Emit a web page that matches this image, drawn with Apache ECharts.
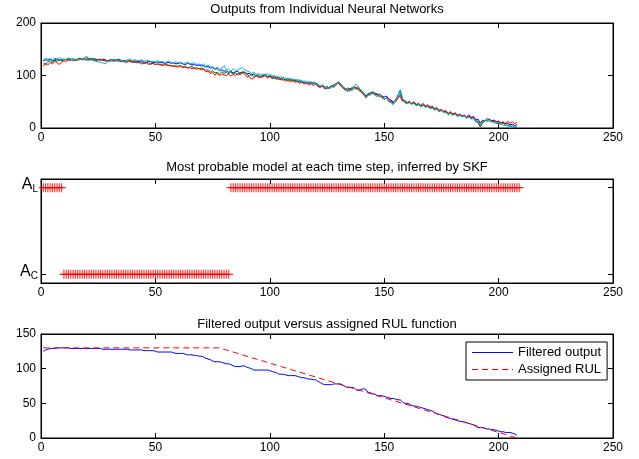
<!DOCTYPE html>
<html><head><meta charset="utf-8">
<script src="https://cdn.jsdelivr.net/npm/echarts@6/dist/echarts.min.js"></script>
<style>html,body{margin:0;padding:0;background:#fff}#c{width:639px;height:459px}</style>
</head><body><div id="c"></div>
<script>
// ---------- DATA ----------
const titles = ['Outputs from Individual Neural Networks',
  'Most probable model at each time step, inferred by SKF',
  'Filtered output versus assigned RUL function'];
const xTicks = [0, 50, 100, 150, 200, 250];

// Panel 1: outputs of four neural networks, time step 1..208
const nnBlue = [128,130,129,131,128,130,131,129,130,131,130,132,131,129,130,131,132,130,131,132,
131,130,132,131,130,129,131,130,128,129,130,129,130,131,129,128,129,127,128,127,
128,126,127,128,126,125,127,126,124,125,126,124,125,123,124,125,123,124,122,123,
124,122,121,123,122,120,121,119,120,118,119,116,117,114,115,112,113,109,111,108,
109,106,108,105,107,108,104,107,106,103,104,101,103,99,101,98,100,102,98,100,
97,99,95,97,93,96,92,94,91,93,89,92,88,90,86,88,85,88,84,86,
81,79,82,77,79,76,80,78,83,86,81,77,74,71,76,73,79,75,77,70,
67,61,64,68,65,67,62,65,60,59,61,55,53,49,54,62,71,54,52,47,
49,46,48,43,45,41,44,40,42,38,39,35,37,33,34,31,32,27,30,26,
28,24,26,23,24,21,25,20,22,16,17,9,15,13,18,16,14,15,12,13,
10,11,8,9,6,7,5,6];
const nnGreen = [124,121,126,128,125,129,127,130,128,129,131,130,129,132,130,131,133,131,134,136,
132,133,131,130,131,130,129,128,127,130,129,130,128,127,128,126,127,128,126,125,
126,124,125,122,123,124,121,122,123,121,122,120,121,122,119,120,118,119,117,118,
119,116,118,115,116,117,114,115,113,114,113,110,111,107,109,105,106,103,107,104,
106,103,107,102,105,101,106,104,107,102,100,102,97,101,98,96,99,102,97,99,
96,94,97,92,95,91,93,89,92,90,91,87,90,86,88,84,87,83,88,85,
84,79,81,78,75,78,80,82,85,87,83,79,75,76,73,78,77,74,75,68,
63,60,66,65,70,64,66,60,62,55,57,51,50,46,52,56,64,52,50,47,
50,46,49,44,46,42,45,40,43,38,40,36,38,31,34,30,31,26,29,25,
27,22,25,22,24,19,22,18,19,12,10,2,9,14,13,16,11,13,9,10,
7,9,5,6,3,4,1,2];
const nnRed = [118,123,120,125,122,127,124,121,126,128,127,129,130,131,128,130,132,131,130,129,
130,131,129,128,130,131,130,129,128,127,128,127,129,128,126,127,125,126,128,126,
125,127,124,126,123,125,124,122,123,121,122,121,119,120,121,118,119,117,118,116,
117,115,116,114,115,113,114,112,113,111,111,107,108,104,106,101,104,100,103,101,
100,103,99,102,100,104,101,106,103,97,98,93,95,100,96,98,97,100,95,98,
94,97,92,95,91,93,89,92,88,90,87,89,85,88,84,86,82,85,81,83,
79,77,80,74,77,75,78,81,82,86,80,76,72,73,70,76,74,78,71,69,
64,57,63,64,68,62,64,59,61,54,58,52,51,47,50,58,60,51,53,48,
51,47,50,45,47,43,47,42,44,40,42,37,39,34,35,32,33,28,31,27,
29,25,26,22,25,20,23,19,20,14,13,5,12,15,14,17,12,14,10,13,
9,12,8,13,9,12,8,11];
const nnCyan = [130,133,131,132,130,133,131,134,132,130,131,133,132,130,131,129,130,132,131,130,
129,130,128,127,126,125,124,122,126,128,129,131,130,128,129,127,128,130,131,129,
130,128,129,130,127,128,129,126,127,126,128,126,127,125,126,128,124,125,126,124,
125,123,124,126,122,123,124,121,122,120,122,118,120,116,117,113,116,112,114,119,
111,112,108,113,109,111,113,115,111,109,107,104,106,102,104,101,103,100,104,101,
101,97,99,96,98,93,96,92,95,92,93,90,92,88,90,86,89,85,87,83,
84,80,82,77,78,75,79,77,83,88,85,78,75,69,74,71,81,83,76,72,
66,58,62,63,67,62,59,63,57,55,57,50,48,44,53,63,73,57,48,46,
48,45,47,42,44,40,43,39,41,37,38,34,36,31,33,29,30,25,28,24,
26,22,24,21,23,18,21,17,18,13,12,6,13,14,15,12,13,9,10,7,
8,5,6,3,4,2,3,2];

// Panel 2: most probable model, segments [firstStep, lastStep, model] (1 = A_L, 0 = A_C)
const modelSegments = [[1, 9, 1], [10, 82, 0], [83, 209, 1]];

// Panel 3: filtered output (time step 1..208) and assigned RUL breakpoints
const filteredOutput = [125,127,128,129,129,129,130,130,130,130,130,130,129,129,129,129,129,129,129,129,
129,129,129,129,129,129,128,128,128,128,128,128,128,128,128,128,128,128,127,127,
127,127,127,127,126,126,126,126,126,125,124,124,124,124,124,124,124,123,122,122,
122,122,121,120,120,120,119,119,118,118,117,115,114,113,111,110,110,110,109,108,
107,107,106,104,103,103,103,104,104,102,101,100,98,98,98,98,98,98,98,97,
96,95,94,92,92,92,91,90,90,90,90,89,88,87,87,86,85,85,84,84,
82,80,78,77,77,77,77,78,78,78,78,76,74,73,73,73,72,69,69,70,
71,70,66,65,64,63,61,61,61,60,59,58,57,57,56,55,55,52,50,50,
49,47,46,46,45,44,43,42,41,40,39,37,35,34,33,32,30,29,28,27,
26,25,24,24,23,22,21,20,19,17,15,15,15,14,13,13,12,12,11,10,
9,9,8,8,8,7,6,4];
const rulSteps = [1, 78, 208];
const rulValues = [130, 130, 0];

// ---------- CHART ----------
const FONT = 'Liberation Sans, Arial, sans-serif';
const grids = [
  {left: 41, top: 23, width: 572, height: 105},
  {left: 41, top: 179, width: 572, height: 104},
  {left: 41, top: 334, width: 572, height: 104}
];
function pairs(arr) { return arr.map((v, i) => [i + 1, v]); }

function xAx(g, pos) {
  return {type: 'value', gridIndex: g, position: pos, min: 0, max: 250, interval: 50,
    axisLine: {show: true, onZero: false, lineStyle: {color: '#000', width: 1}},
    axisTick: {show: true, inside: true, length: 5, lineStyle: {color: '#000'}},
    axisLabel: {show: pos === 'bottom', color: '#000', fontSize: 12, fontFamily: FONT, margin: 4},
    splitLine: {show: false}};
}
function yAx(g, pos, min, max, interval, extra) {
  const a = {type: 'value', gridIndex: g, position: pos, min: min, max: max, interval: interval,
    axisLine: {show: true, onZero: false, lineStyle: {color: '#000', width: 1}},
    axisTick: {show: true, inside: true, length: 5, lineStyle: {color: '#000'}},
    axisLabel: {show: pos === 'left', color: '#000', fontSize: 12, fontFamily: FONT, margin: 5},
    splitLine: {show: false}};
  if (extra) extra(a);
  return a;
}
const modelAxisExtra = a => {
  a.interval = undefined;
  a.axisTick.customValues = [0, 1];
  a.axisLabel.customValues = [0, 1];
  a.axisLabel.margin = 3;
  a.axisLabel.padding = [0, 0, 6, 0];
  a.axisLabel.formatter = v => v === 1 ? '{a|A}{s|L}' : '{a|A}{s|C}';
  a.axisLabel.rich = {
    a: {fontSize: 16, lineHeight: 16, fontFamily: FONT, color: '#000', verticalAlign: 'top'},
    s: {fontSize: 10, lineHeight: 10, fontFamily: FONT, color: '#000', padding: [10, 0, 0, 0]}
  };
};

const xAxes = [], yAxes = [];
[0, 1, 2].forEach(g => { xAxes.push(xAx(g, 'bottom')); xAxes.push(xAx(g, 'top')); });
yAxes.push(yAx(0, 'left', 0, 200, 100)); yAxes.push(yAx(0, 'right', 0, 200, 100));
yAxes.push(yAx(1, 'left', -0.1, 1.1, 1, modelAxisExtra)); yAxes.push(yAx(1, 'right', -0.1, 1.1, 1, modelAxisExtra));
yAxes.push(yAx(2, 'left', 0, 150, 50)); yAxes.push(yAx(2, 'right', 0, 150, 50));

const nnColors = ['#0000ff', '#008000', '#ff0000', '#00bfbf'];
const series = [];
[nnBlue, nnGreen, nnRed, nnCyan].forEach((arr, i) => {
  series.push({type: 'line', xAxisIndex: 0, yAxisIndex: 0, data: pairs(arr), symbol: 'none',
    lineStyle: {color: nnColors[i], width: 1}, itemStyle: {color: nnColors[i]}});
});
const modelData = [];
modelSegments.forEach(([s, e, m]) => { for (let t = s; t <= e; t++) modelData.push([t, m]); });
series.push({type: 'scatter', xAxisIndex: 2, yAxisIndex: 2, data: modelData,
  symbol: 'path://M0,7H16V9H0Z M7,0H9V16H7Z', symbolSize: 9,
  itemStyle: {color: '#ff0000'}});
series.push({name: 'Filtered output', type: 'line', xAxisIndex: 4, yAxisIndex: 4, data: pairs(filteredOutput),
  symbol: 'none', lineStyle: {color: '#0000ff', width: 1}, itemStyle: {color: '#0000ff'}});
series.push({name: 'Assigned RUL', type: 'line', xAxisIndex: 4, yAxisIndex: 4,
  data: rulSteps.map((t, i) => [t, rulValues[i]]),
  symbol: 'none', lineStyle: {color: '#ff0000', width: 1, type: [6, 4]}, itemStyle: {color: '#ff0000'}});

const titleTops = [3, 161, 318];
const chart = echarts.init(document.getElementById('c'), null, {renderer: 'canvas'});
chart.setOption({
  animation: false,
  backgroundColor: '#fff',
  title: titles.map((t, i) => ({text: t, left: 327, top: titleTops[i], textAlign: 'center', padding: 0,
    textStyle: {fontSize: 13, fontWeight: 'normal', color: '#000', fontFamily: FONT}})),
  grid: grids.map(g => Object.assign({show: true, borderColor: '#000', borderWidth: 1, backgroundColor: '#fff', containLabel: false}, g)),
  legend: {
    data: [
      {name: 'Filtered output', icon: 'path://M0,0H41V1H0Z', itemStyle: {color: '#0000ff'}},
      {name: 'Assigned RUL', icon: 'path://M0,0H6V1H0Z M10,0H16V1H10Z M20,0H26V1H20Z M30,0H36V1H30Z M40,0H41V1H40Z', itemStyle: {color: '#ff0000'}}
    ],
    orient: 'vertical', left: 466, top: 342,
    padding: [4, 6, 4, 6], itemGap: 4, itemWidth: 41, itemHeight: 1,
    borderColor: '#000', borderWidth: 1, backgroundColor: '#fff', borderRadius: 0,
    textStyle: {fontSize: 13, color: '#000', fontFamily: FONT}},
  xAxis: xAxes,
  yAxis: yAxes,
  series: series
});
</script></body></html>
